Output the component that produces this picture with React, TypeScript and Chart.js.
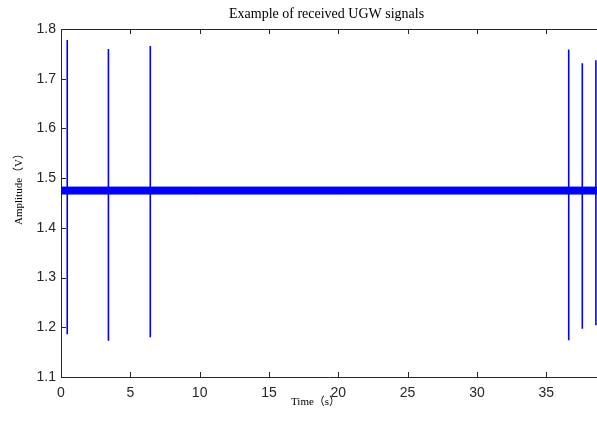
import { useEffect, useRef } from "react";
import { Chart, registerables } from "chart.js";

Chart.register(...registerables);

// Labels
const chartTitle = "Example of received UGW signals";
const timeLabel = "Time（s）";
const amplitudeLabel = "Amplitude（V）";

// Axis ticks
const timeTicks = [0, 5, 10, 15, 20, 25, 30, 35];
const amplitudeTicks = [1.1, 1.2, 1.3, 1.4, 1.5, 1.6, 1.7, 1.8];
const timeMin = 0;
const timeMax = 38.66;
const amplitudeMin = 1.1;
const amplitudeMax = 1.8;

// Received wave packets: arrival time (s), highest and lowest excursion (V)
const burstTimes = [0.45, 3.42, 6.44, 36.62, 37.6, 38.58];
const burstPeaks = [1.778, 1.76, 1.766, 1.759, 1.731, 1.737];
const burstTroughs = [1.186, 1.173, 1.18, 1.174, 1.197, 1.204];

// Envelope of the baseline noise between packets
const noiseTimes = [0, 10, 20, 30, 38.66];
const noiseUpper = [1.482, 1.482, 1.482, 1.482, 1.482];
const noiseLower = [1.468, 1.468, 1.468, 1.468, 1.468];

const SIGNAL_BLUE = "#0000ff";
const AXIS_COLOR = "#262626";
const SANS = "'Liberation Sans', Arial, sans-serif";
const SERIF = "'Liberation Serif', 'Times New Roman', 'Noto Sans CJK SC', serif";

// MATLAB-style box: top edge plus inward tick marks, and the text labels
const axesFrame = {
  id: "axesFrame",
  afterDraw(chart: any) {
    const { ctx, chartArea: a, scales } = chart;
    const tickLen = 5;
    ctx.save();
    ctx.strokeStyle = AXIS_COLOR;
    ctx.lineWidth = 1;
    ctx.beginPath();
    const top = Math.round(a.top) + 0.5;
    ctx.moveTo(a.left, top);
    ctx.lineTo(a.right, top);
    for (const t of timeTicks) {
      const x = Math.round(scales.x.getPixelForValue(t)) + 0.5;
      ctx.moveTo(x, a.bottom);
      ctx.lineTo(x, a.bottom - tickLen);
      ctx.moveTo(x, a.top);
      ctx.lineTo(x, a.top + tickLen);
    }
    for (const v of amplitudeTicks) {
      const y = Math.round(scales.y.getPixelForValue(v)) + 0.5;
      ctx.moveTo(a.left, y);
      ctx.lineTo(a.left + tickLen, y);
    }
    ctx.stroke();

    ctx.fillStyle = "#000000";
    ctx.textBaseline = "alphabetic";
    ctx.textAlign = "left";

    // chart title
    ctx.font = `14px ${SERIF}`;
    ctx.fillText(chartTitle, a.left + 168, a.top - 11);

    // x-axis title
    ctx.font = `11px ${SERIF}`;
    ctx.fillText(timeLabel, a.left + 230, a.bottom + 28);

    // y-axis title
    ctx.save();
    ctx.translate(22, a.top + 196);
    ctx.rotate(-Math.PI / 2);
    ctx.fillText(amplitudeLabel, 0, 0);
    ctx.restore();

    ctx.restore();
  },
};

export default function App() {
  const canvasRef = useRef<HTMLCanvasElement | null>(null);

  useEffect(() => {
    const canvas = canvasRef.current;
    if (!canvas) return;

    const upper = noiseTimes.map((t, i) => ({ x: t, y: noiseUpper[i] }));
    const lower = noiseTimes.map((t, i) => ({ x: t, y: noiseLower[i] }));
    const bursts: { x: number; y: number | null }[] = [];
    burstTimes.forEach((t, i) => {
      bursts.push({ x: t, y: burstTroughs[i] });
      bursts.push({ x: t, y: burstPeaks[i] });
      bursts.push({ x: t, y: null });
    });

    const chart = new Chart(canvas, {
      type: "line",
      data: {
        datasets: [
          {
            data: upper,
            borderColor: SIGNAL_BLUE,
            backgroundColor: SIGNAL_BLUE,
            borderWidth: 1,
            pointRadius: 0,
            fill: "+1",
          },
          {
            data: lower,
            borderColor: SIGNAL_BLUE,
            backgroundColor: SIGNAL_BLUE,
            borderWidth: 1,
            pointRadius: 0,
            fill: false,
          },
          {
            data: bursts,
            borderColor: SIGNAL_BLUE,
            borderWidth: 1.6,
            pointRadius: 0,
            spanGaps: false,
            fill: false,
          },
        ],
      },
      options: {
        responsive: false,
        animation: false,
        devicePixelRatio: 1,
        layout: { padding: { top: 29, left: 0, right: 0, bottom: 0 } },
        plugins: {
          legend: { display: false },
          title: { display: false },
          tooltip: { enabled: false },
        },
        elements: { line: { tension: 0 } },
        scales: {
          x: {
            type: "linear",
            min: timeMin,
            max: timeMax,
            afterFit: (s: any) => {
              s.height = 44;
            },
            afterBuildTicks: (s: any) => {
              s.ticks = timeTicks.map((v) => ({ value: v }));
            },
            grid: { display: false, drawTicks: false },
            border: { display: true, color: AXIS_COLOR, width: 1 },
            ticks: {
              padding: 8,
              maxRotation: 0,
              autoSkip: false,
              color: AXIS_COLOR,
              font: { family: SANS, size: 14 },
              callback: (v: any) => String(v),
            },
          },
          y: {
            type: "linear",
            min: amplitudeMin,
            max: amplitudeMax,
            afterFit: (s: any) => {
              s.width = 61;
            },
            afterBuildTicks: (s: any) => {
              s.ticks = amplitudeTicks.map((v) => ({ value: v }));
            },
            grid: { display: false, drawTicks: false },
            border: { display: true, color: AXIS_COLOR, width: 1 },
            ticks: {
              padding: 5,
              autoSkip: false,
              color: AXIS_COLOR,
              font: { family: SANS, size: 14 },
              callback: (v: any) => Number(v).toFixed(1),
            },
          },
        },
      },
      plugins: [axesFrame],
    });

    return () => chart.destroy();
  }, []);

  return (
    <div
      style={{
        position: "fixed",
        left: 0,
        top: 0,
        width: 597,
        height: 421,
        background: "#ffffff",
      }}
    >
      <canvas ref={canvasRef} width={597} height={421} />
    </div>
  );
}
